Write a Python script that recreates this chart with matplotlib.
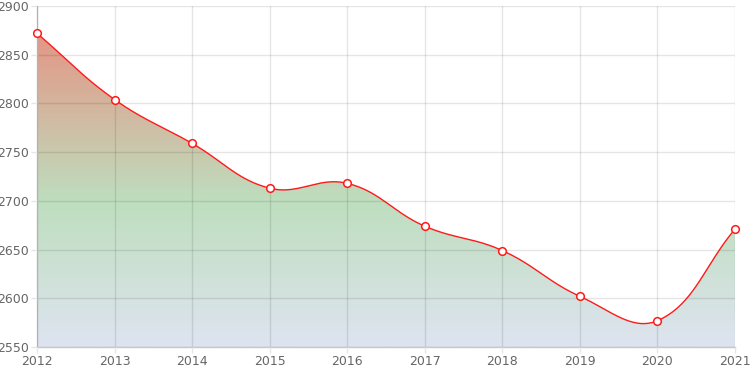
import numpy as np
import matplotlib
matplotlib.use("Agg")
import matplotlib.pyplot as plt
from matplotlib.colors import LinearSegmentedColormap

years = [2012, 2013, 2014, 2015, 2016, 2017, 2018, 2019, 2020, 2021]
values = [2872, 2804, 2759, 2713, 2718, 2674, 2649, 2602, 2577, 2671]

Y_MIN, Y_MAX = 2550, 2900
TENSION = 0.4


def bezier_curve(xs, ys, sx, sy, n=40):
    # chart.js style spline (tension 0.4), control points computed in pixel space
    px = np.asarray(xs, float) * sx
    py = np.asarray(ys, float) * sy
    cps = []
    for i in range(len(px)):
        p0 = i - 1 if i > 0 else i
        p2 = i + 1 if i < len(px) - 1 else i
        d01 = np.hypot(px[i] - px[p0], py[i] - py[p0])
        d12 = np.hypot(px[p2] - px[i], py[p2] - py[i])
        tot = d01 + d12 if d01 + d12 else 1
        fa = TENSION * d01 / tot
        fb = TENSION * d12 / tot
        c1 = (px[i] - fa * (px[p2] - px[p0]), py[i] - fa * (py[p2] - py[p0]))
        c2 = (px[i] + fb * (px[p2] - px[p0]), py[i] + fb * (py[p2] - py[p0]))
        cps.append((c1, c2))
    outx, outy = [], []
    t = np.linspace(0, 1, n)
    for i in range(len(px) - 1):
        a = np.array([px[i], py[i]])
        b = np.array(cps[i][1])
        c = np.array(cps[i + 1][0])
        d = np.array([px[i + 1], py[i + 1]])
        pts = ((1 - t) ** 3)[:, None] * a + (3 * (1 - t) ** 2 * t)[:, None] * b \
            + (3 * (1 - t) * t ** 2)[:, None] * c + (t ** 3)[:, None] * d
        outx.extend(pts[:, 0] / sx)
        outy.extend(pts[:, 1] / sy)
    return np.array(outx), np.array(outy)


fig = plt.figure(figsize=(7.5, 3.75), dpi=100)
ax = fig.add_axes([37 / 750, 1 - 347 / 375, 698 / 750, 341 / 375])

# pixel scales for the spline
sx = 698 / (years[-1] - years[0])
sy = 341 / (Y_MAX - Y_MIN)
cx, cy = bezier_curve(years, values, sx, sy)

# gradient fill under the curve
cmap = LinearSegmentedColormap.from_list(
    "grad",
    [(0.0, (222 / 255, 228 / 255, 240 / 255)),
     (150 / 350, (190 / 255, 222 / 255, 190 / 255)),
     (1.0, (234 / 255, 138 / 255, 124 / 255))])
grad = np.linspace(0, 1, 256).reshape(-1, 1)
img = ax.imshow(grad, cmap=cmap, aspect="auto", origin="lower",
                extent=[years[0], years[-1], Y_MIN, Y_MAX], zorder=1)
poly = ax.fill_between(cx, cy, Y_MIN, color="none", lw=0)
img.set_clip_path(poly.get_paths()[0], transform=ax.transData)

ax.plot(cx, cy, color="#ff1a1a", lw=1, zorder=4)
ax.plot(years, values, "o", ms=5.5, mfc="white", mec="#ff1a1a", mew=1.1,
        zorder=5, clip_on=False)

ax.set_xlim(years[0], years[-1])
ax.set_ylim(Y_MIN, Y_MAX)
ax.set_xticks(years)
ax.set_yticks(np.arange(Y_MIN, Y_MAX + 1, 50))
ax.set_axisbelow(False)
ax.grid(True, color=(0, 0, 0), alpha=0.1, lw=1, zorder=2)
ax.tick_params(axis="both", labelsize=9, labelcolor="#666666",
               color=(0.9, 0.9, 0.9), length=4, width=1, pad=2)
for s in ["top", "right"]:
    ax.spines[s].set_visible(False)
for s in ["left", "bottom"]:
    ax.spines[s].set_color((0.78, 0.78, 0.78))
    ax.spines[s].set_linewidth(1)

plt.savefig("out.png", dpi=100)
